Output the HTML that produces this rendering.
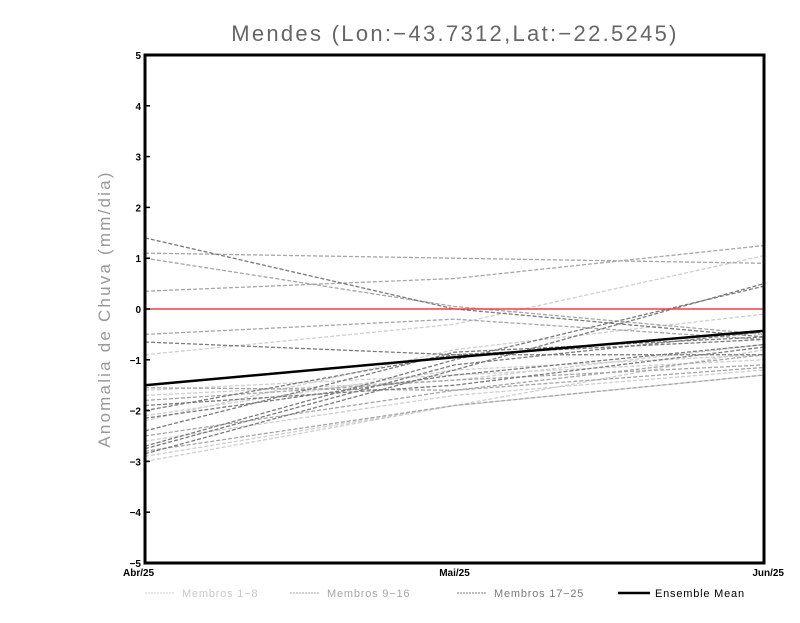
<!DOCTYPE html>
<html><head><meta charset="utf-8"><style>
body{margin:0;background:#fff;width:800px;height:618px;overflow:hidden}
text{font-family:"Liberation Sans",sans-serif}
</style></head><body>
<svg id="c" width="800" height="618"></svg>
<script>
const categories=["Abr/25","Mai/25","Jun/25"];
const yTicks=[-5,-4,-3,-2,-1,0,1,2,3,4,5];
const membersLight=[[-2.9,-1.9,-0.8],[-2.6,-1.7,-1.2],[-0.9,-0.3,1.05],[-2.1,-1.2,-0.9],[-1.6,-1.3,-1.0],[-3.0,-1.9,-1.3],[-1.7,-1.4,-0.7],[-2.2,-0.8,-0.1]];
const membersMid=[[1.1,1.0,0.9],[1.0,0.05,-0.5],[0.35,0.6,1.25],[-0.5,-0.2,-0.6],[-1.55,-1.6,-0.9],[-2.8,-1.9,-1.3],[-1.8,-1.4,-1.1],[-2.5,-1.6,-1.15]];
const membersDark=[[1.4,0.0,-0.55],[-0.65,-0.9,-0.6],[-2.85,-1.2,0.5],[-2.7,-1.0,0.45],[-2.4,-0.85,-0.55],[-2.15,-1.3,-0.7],[-1.9,-1.5,-0.75],[-2.75,-1.1,-0.45],[-2.0,-0.9,-0.9]];
const ensembleMean=[-1.5,-0.95,-0.43];
const svg=document.getElementById('c');const NS='http://www.w3.org/2000/svg';
const L=145,R=764,T=55,B=563;
const xS=i=>L+(R-L)*i/(categories.length-1);
const yS=v=>B-(v+5)/10*(B-T);
function mk(tag,at,name,txt){const e=document.createElementNS(NS,tag);for(const k in at)e.setAttribute(k,at[k]);


if(txt!==undefined)e.textContent=txt;svg.appendChild(e);return e;}
function series(arr,col,name,dash,w){arr.forEach((s,j)=>{mk('polyline',{points:s.map((v,i)=>xS(i)+','+yS(v)).join(' '),fill:'none',stroke:col,'stroke-width':w,'stroke-dasharray':dash},name+'-'+(j+1));});}
series(membersLight,'#cfcfcf','member-light','4,2',1.3);
series(membersMid,'#a6a6a6','member-mid','4,2',1.3);
series(membersDark,'#7a7a7a','member-dark','4,2',1.3);
mk('line',{x1:L,x2:R,y1:yS(0),y2:yS(0),stroke:'#f04040','stroke-width':1.5},'zero-line');
mk('polyline',{points:ensembleMean.map((v,i)=>xS(i)+','+yS(v)).join(' '),fill:'none',stroke:'#000','stroke-width':2.5},'ensemble-mean-line');
mk('rect',{x:L,y:T,width:R-L,height:B-T,fill:'none',stroke:'#000','stroke-width':3},'plot-frame');
yTicks.forEach(v=>{mk('line',{x1:L,x2:L+5,y1:yS(v),y2:yS(v),stroke:'#000','stroke-width':1.5},'y-tick');
mk('text',{x:L-4,y:yS(v)+4,'text-anchor':'end','font-size':10,'font-weight':'bold'},'y-tick-label',v<0?'−'+(-v):String(v));});
categories.forEach((c,i)=>{mk('text',{x:i==0?L-22:(i==2?R+20:xS(i)),y:576,'text-anchor':i==0?'start':(i==2?'end':'middle'),'font-size':10,'font-weight':'bold'},'x-tick-label',c);});
mk('text',{x:455,y:41,'text-anchor':'middle','font-size':22,fill:'#666','letter-spacing':'2.3'},'chart-title','Mendes (Lon:−43.7312,Lat:−22.5245)');
mk('text',{x:0,y:0,transform:'translate(110,309) rotate(-90)','text-anchor':'middle','font-size':17,fill:'#999','letter-spacing':'2.2'},'y-axis-title','Anomalia de Chuva (mm/dia)');
const leg=[['Membros 1−8','#cfcfcf',145],['Membros 9−16','#a6a6a6',290],['Membros 17−25','#7a7a7a',457],['Ensemble Mean','#000',618]];
leg.forEach((l,i)=>{const last=i==3;mk('line',{x1:l[2],x2:l[2]+(last?32:30),y1:593,y2:593,stroke:l[1],'stroke-width':last?2.5:1,'stroke-dasharray':last?'':'2,1'},'legend-swatch');
mk('text',{x:l[2]+(last?37:37),y:597,'font-size':11,'letter-spacing':'0.8',fill:last?'#000':(i==0?'#c8c8c8':(i==1?'#a6a6a6':'#7a7a7a'))},'legend-entry',l[0]);});
</script></body></html>
